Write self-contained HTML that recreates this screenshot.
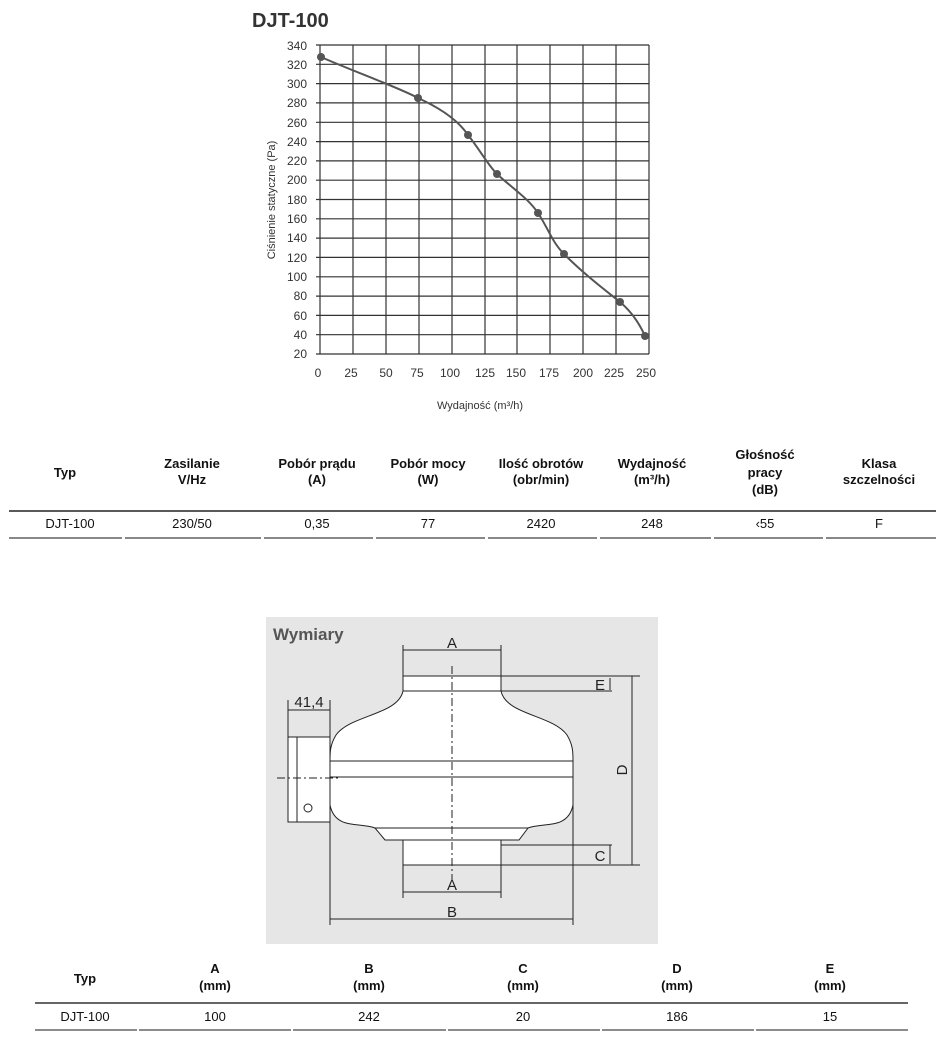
<!DOCTYPE html>
<html><head><meta charset="utf-8"><style>
body{margin:0;background:#fff;width:942px;height:1044px;overflow:hidden;font-family:"Liberation Sans",sans-serif;}
svg text{font-family:"Liberation Sans",sans-serif;}
</style></head><body>
<svg width="942" height="1044" viewBox="0 0 942 1044" xmlns="http://www.w3.org/2000/svg">
<text x="252" y="27" font-size="20" font-weight="bold" fill="#333">DJT-100</text>
<g stroke="#333" stroke-width="1.2">
<line x1="320" y1="45" x2="320" y2="354"/><line x1="353" y1="45" x2="353" y2="354"/><line x1="386" y1="45" x2="386" y2="354"/><line x1="419" y1="45" x2="419" y2="354"/><line x1="452" y1="45" x2="452" y2="354"/><line x1="485" y1="45" x2="485" y2="354"/><line x1="517" y1="45" x2="517" y2="354"/><line x1="550" y1="45" x2="550" y2="354"/><line x1="583" y1="45" x2="583" y2="354"/><line x1="616" y1="45" x2="616" y2="354"/><line x1="649" y1="45" x2="649" y2="354"/>
<line x1="316" y1="45.0" x2="649" y2="45.0"/><line x1="316" y1="64.3" x2="649" y2="64.3"/><line x1="316" y1="83.6" x2="649" y2="83.6"/><line x1="316" y1="102.9" x2="649" y2="102.9"/><line x1="316" y1="122.3" x2="649" y2="122.3"/><line x1="316" y1="141.6" x2="649" y2="141.6"/><line x1="316" y1="160.9" x2="649" y2="160.9"/><line x1="316" y1="180.2" x2="649" y2="180.2"/><line x1="316" y1="199.5" x2="649" y2="199.5"/><line x1="316" y1="218.8" x2="649" y2="218.8"/><line x1="316" y1="238.1" x2="649" y2="238.1"/><line x1="316" y1="257.4" x2="649" y2="257.4"/><line x1="316" y1="276.8" x2="649" y2="276.8"/><line x1="316" y1="296.1" x2="649" y2="296.1"/><line x1="316" y1="315.4" x2="649" y2="315.4"/><line x1="316" y1="334.7" x2="649" y2="334.7"/><line x1="316" y1="354" x2="649" y2="354"/>
</g>
<g font-size="12" fill="#333" text-anchor="end">
<text x="307" y="50">340</text><text x="307" y="69">320</text><text x="307" y="88">300</text><text x="307" y="107">280</text><text x="307" y="127">260</text><text x="307" y="146">240</text><text x="307" y="165">220</text><text x="307" y="184">200</text><text x="307" y="204">180</text><text x="307" y="223">160</text><text x="307" y="242">140</text><text x="307" y="262">120</text><text x="307" y="281">100</text><text x="307" y="300">80</text><text x="307" y="320">60</text><text x="307" y="339">40</text><text x="307" y="358">20</text>
</g>
<g font-size="12" fill="#333" text-anchor="middle">
<text x="318" y="377">0</text><text x="351" y="377">25</text><text x="386" y="377">50</text><text x="417" y="377">75</text><text x="450" y="377">100</text><text x="485" y="377">125</text><text x="516" y="377">150</text><text x="549" y="377">175</text><text x="583" y="377">200</text><text x="614" y="377">225</text><text x="646" y="377">250</text>
<text x="480" y="409" font-size="11">Wydajność (m³/h)</text>
<text transform="translate(275,200) rotate(-90)" font-size="11">Ciśnienie statyczne (Pa)</text>
</g>
<path d="M321,57 C350,70 400,88 418,98 C440,108 458,120 468,135 C480,150 488,165 497,174 C512,188 528,198 538,213 C548,228 552,242 564,254 C585,275 605,290 620,302 C632,312 640,325 645,336" fill="none" stroke="#555" stroke-width="2"/>
<g fill="#555"><circle cx="321" cy="57" r="4"/><circle cx="418" cy="98" r="4"/><circle cx="468" cy="135" r="4"/><circle cx="497" cy="174" r="4"/><circle cx="538" cy="213" r="4"/><circle cx="564" cy="254" r="4"/><circle cx="620" cy="302" r="4"/><circle cx="645" cy="336" r="4"/></g>

<g font-size="13" font-weight="bold" fill="#111" text-anchor="middle">
<text x="65" y="477">Typ</text>
<text x="192" y="468">Zasilanie</text><text x="192" y="484">V/Hz</text>
<text x="317" y="468">Pobór prądu</text><text x="317" y="484">(A)</text>
<text x="428" y="468">Pobór mocy</text><text x="428" y="484">(W)</text>
<text x="541" y="468">Ilość obrotów</text><text x="541" y="484">(obr/min)</text>
<text x="652" y="468">Wydajność</text><text x="652" y="484">(m³/h)</text>
<text x="765" y="459">Głośność</text><text x="765" y="477">pracy</text><text x="765" y="494">(dB)</text>
<text x="879" y="468">Klasa</text><text x="879" y="484">szczelności</text>
</g>
<line x1="9" y1="511" x2="936" y2="511" stroke="#222" stroke-width="1.5"/>
<g font-size="13" fill="#111" text-anchor="middle">
<text x="70" y="528">DJT-100</text><text x="192" y="528">230/50</text><text x="317" y="528">0,35</text><text x="428" y="528">77</text><text x="541" y="528">2420</text><text x="652" y="528">248</text><text x="765" y="528">‹55</text><text x="879" y="528">F</text>
</g>
<g stroke="#888" stroke-width="2"><line x1="9" y1="538" x2="122" y2="538"/><line x1="125" y1="538" x2="261" y2="538"/><line x1="264" y1="538" x2="373" y2="538"/><line x1="376" y1="538" x2="485" y2="538"/><line x1="488" y1="538" x2="597" y2="538"/><line x1="600" y1="538" x2="711" y2="538"/><line x1="714" y1="538" x2="823" y2="538"/><line x1="826" y1="538" x2="936" y2="538"/></g>

<rect x="266" y="617" width="392" height="327" fill="#e6e6e6"/>
<text x="273" y="640" font-size="17" font-weight="bold" fill="#555">Wymiary</text>
<g stroke="#222" stroke-width="1" fill="#fff">
<rect x="288" y="737" width="9" height="85"/>
<rect x="297" y="737" width="33" height="85"/>
<rect x="403" y="676" width="98" height="15"/>
<path d="M403,691 C398,715 350,715 336,735 C330,745 330,752 330,761 L573,761 C573,752 573,745 567,735 C553,715 506,715 501,691 Z"/>
<rect x="330" y="761" width="243" height="16"/>
<path d="M330,777 L330,805 C335,830 360,822 375,828 L528,828 C543,822 568,830 573,805 L573,777 Z"/>
<path d="M375,828 L385,840 L519,840 L528,828 Z"/>
<rect x="403" y="840" width="98" height="25"/>
<circle cx="308" cy="808" r="4"/>
</g>
<g stroke="#222" stroke-width="1" fill="none">
<line x1="452" y1="666" x2="452" y2="880" stroke-dasharray="8,3,2,3"/>
<line x1="277" y1="778" x2="340" y2="778" stroke-dasharray="8,3,2,3"/>
<line x1="403" y1="645" x2="403" y2="676"/><line x1="501" y1="645" x2="501" y2="676"/><line x1="403" y1="650" x2="501" y2="650"/>
<line x1="403" y1="865" x2="403" y2="898"/><line x1="501" y1="865" x2="501" y2="898"/><line x1="403" y1="892" x2="501" y2="892"/>
<line x1="330" y1="777" x2="330" y2="925"/><line x1="573" y1="777" x2="573" y2="925"/><line x1="330" y1="919" x2="573" y2="919"/>
<line x1="288" y1="700" x2="288" y2="737"/><line x1="330" y1="700" x2="330" y2="761"/><line x1="288" y1="710" x2="330" y2="710"/>
<line x1="501" y1="676" x2="640" y2="676"/><line x1="501" y1="691" x2="612" y2="691"/>
<line x1="501" y1="845" x2="612" y2="845"/><line x1="501" y1="865" x2="640" y2="865"/>
<line x1="632" y1="676" x2="632" y2="865"/><line x1="610" y1="678" x2="610" y2="690"/><line x1="610" y1="845" x2="610" y2="864"/>
</g>
<g font-size="15" fill="#222" text-anchor="middle">
<text x="452" y="648">A</text><text x="452" y="890">A</text><text x="452" y="917">B</text>
<text x="309" y="707">41,4</text><text x="600" y="690">E</text><text x="600" y="861">C</text>
<text transform="translate(627,770) rotate(-90)">D</text>
</g>

<g font-size="13" font-weight="bold" fill="#111" text-anchor="middle">
<text x="85" y="983">Typ</text>
<text x="215" y="973">A</text><text x="215" y="990">(mm)</text>
<text x="369" y="973">B</text><text x="369" y="990">(mm)</text>
<text x="523" y="973">C</text><text x="523" y="990">(mm)</text>
<text x="677" y="973">D</text><text x="677" y="990">(mm)</text>
<text x="830" y="973">E</text><text x="830" y="990">(mm)</text>
</g>
<line x1="35" y1="1003" x2="908" y2="1003" stroke="#666" stroke-width="2"/>
<g font-size="13" fill="#111" text-anchor="middle">
<text x="85" y="1021">DJT-100</text><text x="215" y="1021">100</text><text x="369" y="1021">242</text><text x="523" y="1021">20</text><text x="677" y="1021">186</text><text x="830" y="1021">15</text>
</g>
<g stroke="#666" stroke-width="1.5"><line x1="35" y1="1030" x2="137" y2="1030"/><line x1="139" y1="1030" x2="291" y2="1030"/><line x1="293" y1="1030" x2="446" y2="1030"/><line x1="448" y1="1030" x2="600" y2="1030"/><line x1="602" y1="1030" x2="754" y2="1030"/><line x1="756" y1="1030" x2="908" y2="1030"/></g>
</svg>
</body></html>
